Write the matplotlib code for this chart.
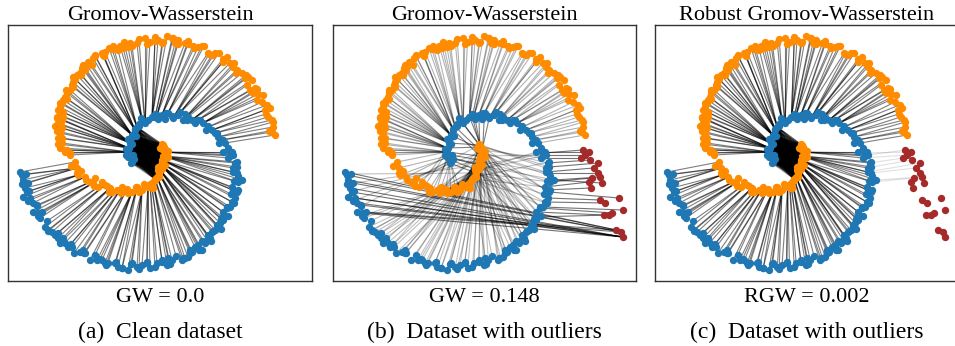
import itertools
import matplotlib.pyplot as plt
from matplotlib.collections import LineCollection
import numpy as np

# source spiral (orange), outer turn then inner turn
orange_outer_x = [12.8, 12.5, 12.6, 12.5, 12.1, 12.3, 11.8, 11.5, 11.6, 11.1,
                  10.6, 10.8, 10.3, 10.5, 10.1, 9.8, 9.5, 9.0, 8.6, 8.3,
                  8.0, 7.6, 6.8, 6.5, 6.1, 5.5, 5.1, 4.6, 4.1, 3.8,
                  3.1, 2.8, 2.6, 2.0, 1.6, 1.1,
                  0.8, 0.3, -0.2, -1.0, -1.7, -1.9, -2.4, -2.7, -3.4, -3.5,
                  -4.2, -4.5, -4.4, -5.2, -5.4, -5.9, -6.0, -6.5, -6.2, -6.7,
                  -7.0, -7.2, -7.4, -7.5, -7.7, -8.0, -8.2, -8.4, -8.5, -8.7,
                  -8.9, -8.7, -8.4, -9.0, -8.5, -8.9, -9.2, -8.5, -8.7, -8.9,
                  -8.5, -8.7, -8.0, -8.2, -7.7, -7.7,
                  12.2, 12.6, 11.9, 12.0, 11.0, 11.0, 10.0, 9.9, 8.9, 8.7,
                  7.6, 7.2, 6.2, 5.7, 4.7, 4.1, 3.1, 2.5, 1.5, 0.8,
                  0.0, -0.8, -1.5, -2.3, -2.9, -3.8, -4.3, -5.2, -5.5, -6.4,
                  -6.6, -7.4, -7.4, -8.1, -8.0, -8.7, -8.4, -9.0, -8.6, -9.0,
                  -8.5, -8.9, -8.2]
orange_outer_y = [1.8, 2.1, 2.6, 3.3, 3.6, 4.5, 4.3, 5.1, 5.8, 5.9,
                  6.0, 6.5, 6.3, 7.3, 7.6, 7.5, 8.0, 8.3, 8.6, 9.0,
                  9.6, 9.4, 10.0, 9.8, 10.0, 10.7, 10.6, 10.7, 10.9, 11.0,
                  11.3, 11.0, 11.5, 11.7, 11.1, 11.3,
                  11.2, 11.1, 11.5, 11.0, 11.0, 10.6, 10.5, 10.7, 10.7, 10.4,
                  10.1, 10.0, 9.8, 9.7, 9.5, 9.1, 8.8, 8.5, 8.3, 8.0,
                  7.8, 7.4, 7.1, 6.8, 6.3, 6.0, 5.6, 5.3, 5.0, 4.6,
                  4.3, 3.8, 3.6, 3.5, 3.3, 3.0, 2.7, 2.5, 2.0, 1.5,
                  1.0, 0.5, 0.3, 0.1, 0.0, -0.2,
                  2.2, 3.1, 3.9, 4.8, 5.3, 6.4, 6.8, 7.8, 8.0, 9.0,
                  9.1, 10.0, 9.9, 10.7, 10.5, 11.2, 10.9, 11.5, 11.0, 11.6,
                  10.9, 11.4, 10.7, 11.1, 10.3, 10.5, 9.7, 9.8, 8.8, 8.8,
                  7.8, 7.6, 6.6, 6.3, 5.4, 5.0, 4.1, 3.6, 2.8, 2.2,
                  1.5, 0.9, 0.3]
orange_inner_x = [-7.2, -7.0, -6.9, -6.2, -5.7, -5.4, -4.9, -4.2, -3.7, -3.5,
                  -3.0, -2.5, -2.0, -1.5, -1.0, -0.5, 0.1, 0.5, 0.6, 0.3,
                  0.8, 1.0, 1.2, 1.3, 1.4, 1.8, 1.5, 1.6, 1.8, 1.9, 1.6, 1.7,
                  -6.6, -5.2, -4.5, -2.6, -0.3, 1.1, 1.9, 1.3,
                  -7.6, -7.0, -6.1, -5.3, -4.0, -3.8, -2.5, -1.9, -1.1, -0.8,
                  -0.1, 0.6, 0.8, 1.2, 1.1, 1.5, 1.5, 2.1, 2.1, 1.5, 1.5]
orange_inner_y = [-0.9, -1.5, -2.2, -2.4, -2.9, -3.0, -3.4, -3.2, -3.5, -3.9,
                  -3.7, -3.4, -3.6, -3.9, -3.4, -3.7, -3.4, -3.5, -2.9, -3.1,
                  -2.6, -2.4, -2.0, -1.7, -1.2, -1.2, -0.7, -0.3, 0.1, 0.3, 0.8, 0.6,
                  -1.8, -2.5, -2.9, -4.0, -3.1, -1.4, -0.5, 0.5,
                  -1.3, -2.0, -2.7, -3.3, -3.3, -3.9, -3.7, -4.0, -3.4, -3.9,
                  -3.3, -3.5, -2.7, -2.4, -1.7, -1.6, -0.9, -0.4, 0.2, 0.4, 0.9]

# target spiral (blue), outer turn then inner turn
blue_outer_x = [-12.7, -12.5, -12.4, -11.9, -12.2, -12.0, -12.4, -11.7, -11.4, -11.0,
                -11.4, -10.9, -10.5, -10.7, -10.2, -9.9, -9.5, -9.2, -8.9, -8.4,
                -8.2, -7.9, -7.5, -6.7, -6.4, -6.2, -5.2, -5.0, -4.5, -4.2,
                -3.9, -3.2, -2.9, -2.5, -1.9, -1.5, -1.0, -0.5, 0.0, 0.3,
                1.0, 1.5, 2.0, 2.1, 2.5, 3.5, 3.6, 4.1, 4.3, 4.5,
                4.8, 5.1, 5.5, 5.8, 6.0, 6.3, 6.1, 6.5, 6.8, 7.1,
                7.0, 7.3, 7.6, 7.5, 7.6, 8.0, 8.3, 8.5, 8.8, 9.0,
                8.6, 8.5, 9.1, 9.5, 9.0, 8.6, 9.0, 8.8, 8.1, 8.6,
                8.3, 7.6,
                -12.1, -12.5, -11.8, -11.9, -11.0, -10.9, -10.0, -9.9, -8.9, -8.7,
                -7.6, -7.3, -6.3, -5.7, -4.7, -4.1, -3.1, -2.5, -1.6, -0.8,
                0.0, 0.8, 1.5, 2.3, 2.9, 3.8, 4.3, 5.2, 5.5, 6.4,
                6.6, 7.4, 7.4, 8.1, 8.0, 8.7, 8.4, 9.1, 8.7, 9.1,
                8.6, 9.0, 8.3]
blue_outer_y = [-1.9, -2.2, -2.7, -3.0, -3.5, -3.9, -4.4, -4.5, -5.0, -5.2,
                -5.9, -6.0, -5.9, -6.5, -7.4, -7.7, -7.9, -8.2, -8.5, -8.5,
                -9.0, -9.4, -9.4, -9.9, -9.7, -10.0, -10.2, -10.7, -10.7, -11.0,
                -11.0, -11.0, -11.4, -11.5, -11.7, -11.0, -11.4, -11.2, -11.0, -11.5,
                -11.0, -10.9, -11.2, -10.5, -10.7, -10.7, -10.5, -10.4, -10.0, -9.9,
                -9.4, -9.2, -9.7, -9.0, -8.7, -8.5, -8.2, -7.9, -7.7, -7.5,
                -7.2, -7.0, -6.7, -6.4, -5.9, -5.5, -5.4, -4.9, -4.5, -3.9,
                -3.7, -3.4, -2.9, -2.7, -2.0, -1.9, -1.4, -1.0, -0.5, -0.2,
                0.0, 0.1,
                -2.1, -3.1, -3.8, -4.8, -5.3, -6.3, -6.8, -7.8, -8.0, -9.0,
                -9.1, -10.0, -10.0, -10.7, -10.6, -11.2, -10.9, -11.5, -11.1, -11.6,
                -10.9, -11.4, -10.7, -11.1, -10.3, -10.5, -9.7, -9.7, -8.8, -8.8,
                -7.8, -7.6, -6.6, -6.3, -5.4, -5.0, -4.1, -3.7, -2.8, -2.3,
                -1.5, -0.9, -0.3]
blue_inner_x = [8.5, 8.1, 7.8, 7.5, 7.1, 6.8, 6.5, 6.1, 5.6, 5.1,
                4.5, 4.1, 3.6, 3.1, 2.6, 2.1, 1.5, 1.0, 0.8, 0.5,
                -0.2, -0.5, -1.2, -1.0, -1.5, -1.7, -1.8, -1.9, -1.4, -1.7,
                -1.9, -1.5, -1.6,
                7.2, 5.9, 4.8, 3.3, 1.8, -0.8, -1.9, -1.3,
                7.6, 7.0, 6.1, 5.3, 4.0, 3.8, 2.5, 1.9, 1.1, 0.8,
                0.1, -0.6, -0.8, -1.2, -1.1, -1.5, -1.5, -2.1, -2.1, -1.5, -1.5]
blue_inner_y = [0.1, 0.5, 1.0, 1.3, 1.6, 2.0, 2.3, 2.6, 3.0, 3.3,
                3.3, 3.6, 3.3, 3.8, 3.5, 4.0, 3.8, 3.8, 3.6, 3.6,
                3.0, 3.3, 2.3, 2.6, 1.8, 1.0, 0.5, 0.1, -0.2, -0.4,
                -0.4, -0.7, -1.0,
                1.0, 2.3, 3.0, 4.1, 3.4, 2.9, 1.4, -0.6,
                1.3, 2.0, 2.7, 3.3, 3.3, 3.9, 3.7, 4.0, 3.4, 3.9,
                3.3, 3.5, 2.7, 2.4, 1.7, 1.6, 0.9, 0.4, -0.2, -0.4, -0.9]

# outliers added to the source in (b) and (c)
outlier_x = [12.6, 13.2, 12.8, 12.4, 13.3, 14.2, 13.7, 14.2, 14.4, 13.5, 13.2, 13.4,
             14.6, 14.4, 14.9, 16.4, 14.8, 15.3, 15.7, 16.8, 16.1, 16.6, 16.8]
outlier_y = [0.3, 0.1, -0.2, -0.5, -0.7, -1.0, -1.5, -2.0, -2.4, -2.5, -2.9, -3.5,
             -3.0, -4.7, -5.0, -4.5, -6.2, -6.2, -6.0, -5.7, -7.7, -7.9, -8.4]

# couplings: orange outer i -> blue inner, blue outer j -> orange inner
match_outer = [2, 3, 4, 5, 5, 6, 6, 7, 8, 8,
               8, 9, 9, 10, 10, 10, 11, 12, 12, 13,
               13, 13, 14, 14, 15, 15, 15, 16, 16, 17,
               17, 17, 18, 19, 19, 19, 19, 20, 20, 20,
               21, 21, 21, 21, 23, 23, 23, 22, 22, 22,
               22, 22, 24, 24, 24, 24, 24, 24, 24, 24,
               25, 25, 25, 25, 25, 25, 25, 25, 25, 26,
               26, 26, 26, 26, 26, 26, 27, 27, 27, 27, 27, 27,
               3, 4, 6, 7, 8, 8, 9, 10, 12, 12,
               13, 14, 14, 15, 16, 16, 17, 18, 19, 19,
               20, 20, 21, 21, 23, 23, 22, 22, 22, 24,
               24, 24, 24, 25, 25, 25, 25, 26, 26, 26,
               26, 27, 27]
match_blue = [0, 1, 1, 1, 2, 2, 2, 3, 3, 4,
              4, 5, 5, 5, 6, 7, 7, 8, 8, 8,
              9, 10, 10, 11, 11, 12, 12, 13, 13, 13,
              13, 14, 14, 14, 15, 15, 15, 16, 16, 16,
              19, 17, 18, 18, 18, 20, 20, 21, 21, 21,
              22, 22, 22, 22, 23, 23, 23, 23, 23, 24,
              24, 24, 24, 24, 24, 25, 25, 25, 26, 26,
              26, 26, 27, 27, 27, 27, 27, 27, 28, 28, 28, 28,
              1, 1, 2, 3, 4, 5, 6, 7, 8, 9,
              10, 11, 12, 12, 13, 13, 14, 15, 15, 15,
              16, 19, 17, 18, 20, 21, 21, 22, 22, 23,
              23, 24, 24, 24, 25, 25, 26, 26, 26, 27,
              27, 27, 28]
# inner ends of both spirals are coupled to each other (dark core)
core_orange = [20, 21, 22, 23, 24, 25, 26, 27, 28, 29, 30, 31, 53, 54, 55, 56, 57, 58, 59, 60]
core_blue = [22, 23, 24, 25, 26, 27, 28, 29, 30, 31, 32, 39, 40, 55, 56, 57, 58, 59, 60, 61]

# GW with outliers (b)
b_blue_idx = list(range(13, 125))
b_blue_to_orange = [20, 21, 21, 22, 22, 23, 23, 24, 24, 25,
                    25, 26, 26, 27, 27, 28, 28, 29, 29, 30,
                    30, 31, 31, 20, 21, 22, 23, 24, 25, 26,
                    27, 28, 29, 30, 31, 20, 21, 22, 23, 24,
                    25, 26, 27, 28, 29, 30, 31, 21, 23, 25,
                    27, 29, 31, 22, 24, 26, 28, 30, 20, 22,
                    24, 26, 28, 30, 31, 29, 27, 25, 23,
                    22, 24, 26, 28, 30, 21, 23, 25, 27, 29,
                    31, 20, 22, 24, 26, 28, 30, 21, 23, 25,
                    27, 29, 31, 20, 22, 24, 26, 28, 30, 21,
                    23, 25, 27, 29, 31, 20, 22, 24, 26, 28,
                    30, 21, 23]
b_out_src = [0, 1, 2, 3, 4, 5, 6, 7, 8, 9, 10, 11, 12, 13, 14, 15, 16, 17, 18, 19,
             20, 20, 21, 21, 22, 22, 22, 22, 22, 22, 21, 22, 20]
b_out_dst = [80, 81, 79, 78, 77, 76, 75, 74, 73, 72, 71, 70, 73, 68, 67, 69, 64, 63, 65, 66,
             0, 1, 2, 3, 4, 5, 6, 7, 8, 9, 10, 11, 12]
b_swirl_blue = [14, 15, 16, 17, 18, 19, 20, 21, 22, 23, 24, 25, 26, 27, 28, 29, 30, 31, 32]
b_swirl_orange = [28, 29, 30, 31, 28, 29, 30, 31, 27, 28, 29, 30, 31, 27, 26, 25, 24, 23, 22]
b_bottom_orange = [0, 1, 2, 3, 4, 5, 6, 7, 8, 9, 10, 11, 12, 13, 14, 15]
b_bottom_blue = [27, 28, 29, 30, 31, 32, 26, 27, 28, 29, 30, 31, 32, 25, 26, 27]

# RGW (c): faint links to outliers
c_out_src = [0, 1, 2, 3, 4, 5, 6, 8, 9]
c_out_dst = [79, 80, 78, 77, 76, 75, 74, 73, 72]

titles = ['Gromov-Wasserstein', 'Gromov-Wasserstein', 'Robust Gromov-Wasserstein']
scores = ['GW = 0.0', 'GW = 0.148', 'RGW = 0.002']
captions = ['(a)  Clean dataset', '(b)  Dataset with outliers', '(c)  Dataset with outliers']

plt.rcParams['font.family'] = 'Liberation Serif'

oox, ooy = np.array(orange_outer_x), np.array(orange_outer_y)
oix, oiy = np.array(orange_inner_x), np.array(orange_inner_y)
box, boy = np.array(blue_outer_x), np.array(blue_outer_y)
bix, biy = np.array(blue_inner_x), np.array(blue_inner_y)
olx, oly = np.array(outlier_x), np.array(outlier_y)
core_pairs = list(itertools.product(core_orange, core_blue))
core_i = [p[0] for p in core_pairs]
core_j = [p[1] for p in core_pairs]


def links(ax, x1, y1, i1, x2, y2, i2, alpha, lw=0.8):
    segs = [[(x1[a], y1[a]), (x2[b], y2[b])] for a, b in zip(i1, i2)]
    ax.add_collection(LineCollection(segs, colors='k', alpha=alpha,
                                     linewidths=lw, zorder=1))


fig = plt.figure(figsize=(9.55, 3.46), dpi=100)
boxes = [[8 / 955, 65 / 346, 304 / 955, 256 / 346],
         [333 / 955, 65 / 346, 303 / 955, 256 / 346],
         [655 / 955, 65 / 346, 303 / 955, 256 / 346]]
xlims = [(-13.9, 16.5), (-14.0, 18.2), (-14.0, 18.2)]

axes = [fig.add_axes(b) for b in boxes]
for k, ax in enumerate(axes):
    if k == 1:
        links(ax, oox, ooy, range(len(match_outer)), bix, biy, match_outer, 0.3)
        links(ax, box, boy, b_blue_idx, oix, oiy, b_blue_to_orange, 0.25)
        links(ax, bix, biy, b_swirl_blue, oix, oiy, b_swirl_orange, 0.5)
        links(ax, oix, oiy, b_bottom_orange, bix, biy, b_bottom_blue, 0.3)
        links(ax, olx, oly, b_out_src, box, boy, b_out_dst, 0.55)
    else:
        links(ax, oox, ooy, range(len(match_outer)), bix, biy, match_outer, 0.5)
        links(ax, box, boy, range(len(match_blue)), oix, oiy, match_blue, 0.5)
        links(ax, oix, oiy, core_i, bix, biy, core_j, 0.35)
        if k == 2:
            links(ax, olx, oly, c_out_src, box, boy, c_out_dst, 0.12)

    ax.scatter(np.concatenate([oox, oix]), np.concatenate([ooy, oiy]),
               s=28, c='darkorange', linewidths=0, zorder=3)
    ax.scatter(np.concatenate([box, bix]), np.concatenate([boy, biy]),
               s=28, c='tab:blue', linewidths=0, zorder=3)
    if k > 0:
        ax.scatter(olx, oly, s=28, c='brown', linewidths=0, zorder=3)

    ax.set_xlim(*xlims[k])
    ax.set_ylim(-12.8, 12.8)
    ax.set_xticks([])
    ax.set_yticks([])
    for s in ax.spines.values():
        s.set_color('#333333')
        s.set_linewidth(1.0)
    ax.set_title(titles[k], fontsize=16, pad=3.6)
    ax.text(0.5, -0.082, scores[k], transform=ax.transAxes,
            ha='center', va='baseline', fontsize=16)
    ax.text(0.5, -0.223, captions[k], transform=ax.transAxes,
            ha='center', va='baseline', fontsize=17)

fig.savefig('out.png', dpi=100)
